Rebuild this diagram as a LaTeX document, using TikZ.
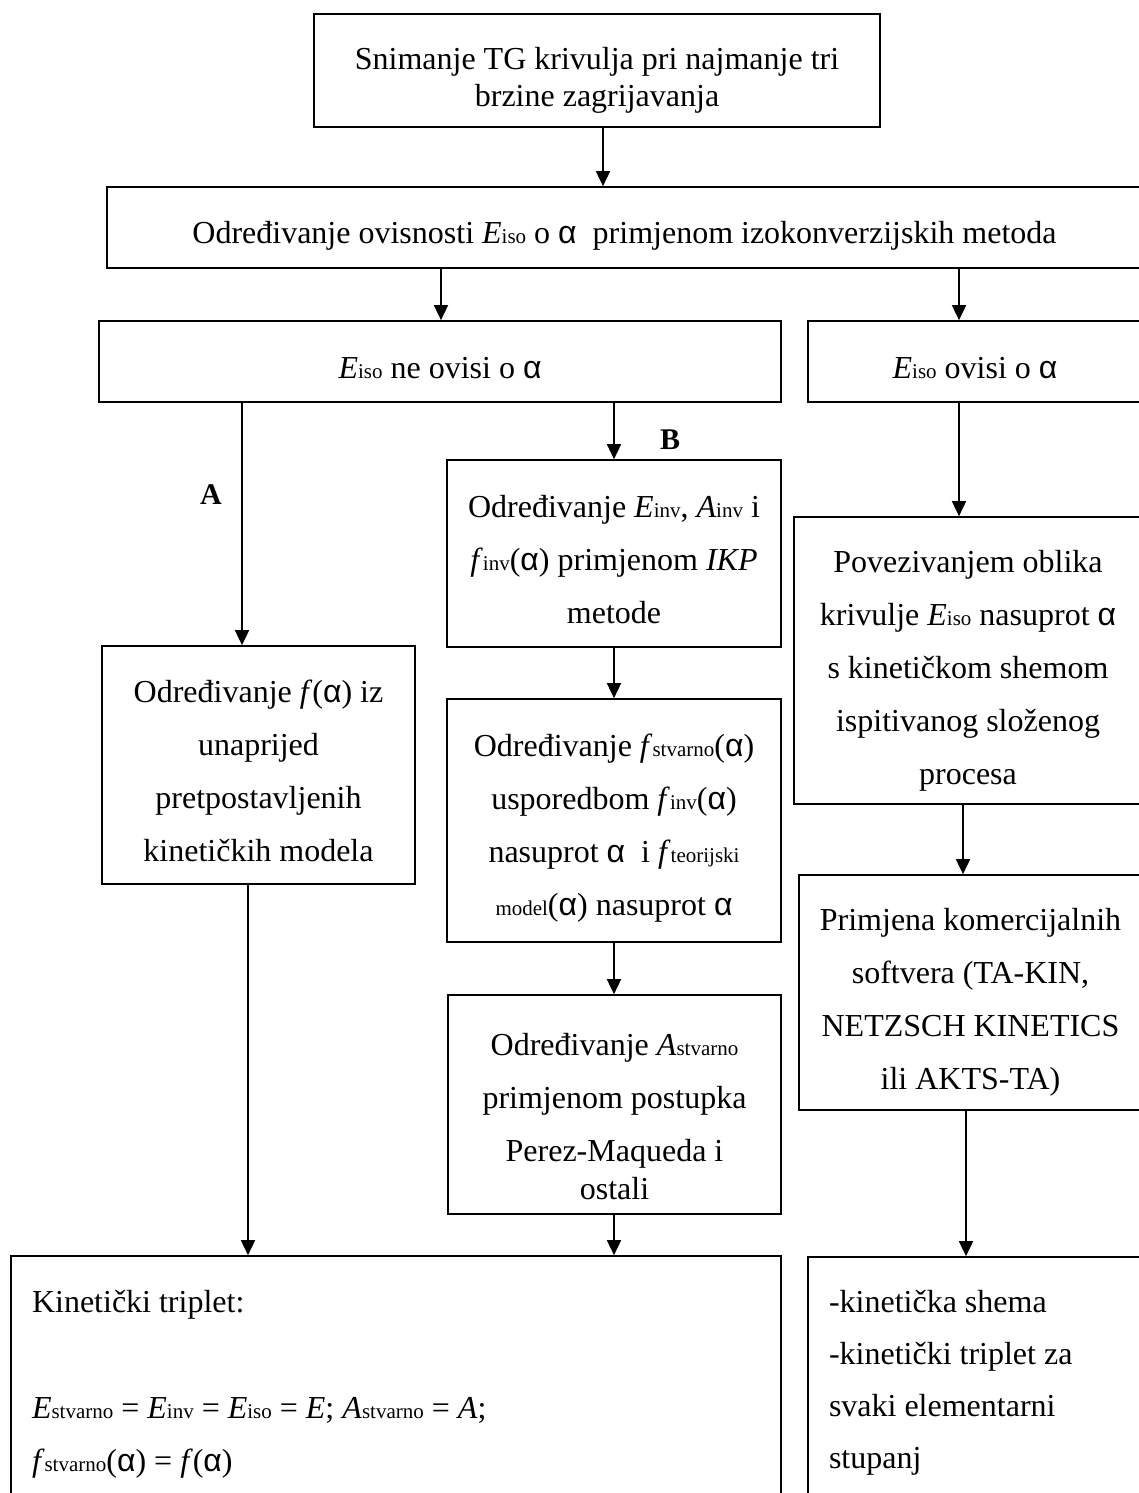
\documentclass[tikz,border=0pt]{standalone}
\usepackage{fontspec}
\setmainfont{Liberation Serif}
\newfontfamily\alfont{Liberation Sans}
\usetikzlibrary{arrows.meta}
\newcommand\al{{\alfont α}}
\newcommand\lo[1]{{\fontsize{21}{21}\selectfont #1}}
\newcommand\Ei[1]{\textit{E}\lo{#1}}
\newcommand\Ai[1]{\textit{A}\lo{#1}}
\newcommand\ff[1]{\textit{f}\lo{#1}}
\newcommand\ctab[1]{\begin{tabular}[t]{@{}c@{}}#1\end{tabular}}
\tikzset{
  box/.style={draw, line width=1.7pt, inner sep=0pt, font=\fontsize{32}{53}\selectfont},
  arr/.style={line width=1.7pt, -{Triangle[width=14pt,length=15pt]}},
  lbl/.style={font=\fontsize{30}{30}\selectfont\bfseries, inner sep=0pt, anchor=base}
}
\begin{document}
\begin{tikzpicture}[x=1pt,y=-1pt]
\useasboundingbox[fill=white] (0,0) rectangle (1139,1493);

% boxes
\node[box, minimum width=566pt, text height=56pt, text depth=57pt, font=\fontsize{32}{37}\selectfont] (top) at (597,70.5)
  {\ctab{Snimanje TG krivulja pri najmanje tri\\ brzine zagrijavanja}};
\node[box, minimum width=1035pt, text height=56pt, text depth=25pt] (iso) at (624.5,227.5)
  {\ctab{Određivanje ovisnosti \Ei{iso} o \al\ \ primjenom izokonverzijskih metoda}};
\node[box, minimum width=682pt, text height=57pt, text depth=24pt] (ne) at (440,361.5)
  {\ctab{\Ei{iso} ne ovisi o \al}};
\node[box, minimum width=334pt, text height=57pt, text depth=24pt] (da) at (975,361.5)
  {\ctab{\Ei{iso} ovisi o \al}};
\node[box, minimum width=313pt, text height=56pt, text depth=182pt] (fa) at (258.5,765)
  {\ctab{Određivanje \textit{f}(\al) iz\\ unaprijed\\ pretpostavljenih\\ kinetičkih modela}};
\node[box, minimum width=334pt, text height=57pt, text depth=130pt] (b1) at (614,553.5)
  {\ctab{Određivanje \Ei{inv}, \Ai{inv} i\\ \ff{inv}(\al) primjenom \textit{IKP}\\ metode}};
\node[box, minimum width=334pt, text height=57pt, text depth=186pt] (b2) at (614,820.5)
  {\ctab{Određivanje \ff{stvarno}(\al)\\ usporedbom \ff{inv}(\al)\\ nasuprot \al\ \ i \ff{teorijski}\\ \lo{model}(\al) nasuprot \al}};
\node[box, minimum width=333pt, text height=60pt, text depth=159pt] (b3) at (614.5,1104.5)
  {\ctab{Određivanje \Ai{stvarno}\\ primjenom postupka\\ Perez-Maqueda i\\ \raisebox{15pt}{ostali}}};
\node[box, minimum width=770pt, text height=56pt, text depth=188pt] (kt) at (396,1378)
  {\begin{tabular}[t]{@{\hspace{21pt}}p{749pt}@{}}Kinetički triplet:\\ \\
   \Ei{stvarno} = \Ei{inv} = \Ei{iso} = \textit{E}; \Ai{stvarno} = \textit{A};\\
   \ff{stvarno}(\al) = \textit{f}(\al)\end{tabular}};
\node[box, minimum width=348pt, text height=55pt, text depth=232pt] (r1) at (968,660.5)
  {\ctab{Povezivanjem oblika\\ krivulje \Ei{iso} nasuprot \al\\ s kinetičkom shemom\\ ispitivanog složenog\\ procesa}};
\node[box, minimum width=343pt, text height=55pt, text depth=180pt] (r2) at (970.5,992.5)
  {\ctab{Primjena komercijalnih\\ softvera (TA-KIN,\\ NETZSCH KINETICS\\ ili AKTS-TA)}};
\node[box, minimum width=334pt, text height=55pt, text depth=188pt, font=\fontsize{32}{52}\selectfont] (r3) at (975,1378.5)
  {\begin{tabular}[t]{@{\hspace{21pt}}p{313pt}@{}}-kinetička shema\\ -kinetički triplet za\\ svaki elementarni\\ stupanj\end{tabular}};

% labels
\node[lbl] (lblA) at (211,504) {A};
\node[lbl] (lblB) at (670,449) {B};

% connector x positions
\coordinate (x1) at (603,0);
\coordinate (x2) at (441,0);
\coordinate (x3) at (959,0);
\coordinate (x4) at (242,0);
\coordinate (x5) at (614,0);
\coordinate (x6) at (248,0);
\coordinate (x7) at (963,0);
\coordinate (x8) at (966,0);

\draw[arr] (top.south -| x1) -- (iso.north -| x1);
\draw[arr] (iso.south -| x2) -- (ne.north -| x2);
\draw[arr] (iso.south -| x3) -- (da.north -| x3);
\draw[arr] (ne.south -| x4) -- (fa.north -| x4);
\draw[arr] (ne.south -| x5) -- (b1.north -| x5);
\draw[arr] (b1.south -| x5) -- (b2.north -| x5);
\draw[arr] (b2.south -| x5) -- (b3.north -| x5);
\draw[arr] (b3.south -| x5) -- (kt.north -| x5);
\draw[arr] (fa.south -| x6) -- (kt.north -| x6);
\draw[arr] (da.south -| x3) -- (r1.north -| x3);
\draw[arr] (r1.south -| x7) -- (r2.north -| x7);
\draw[arr] (r2.south -| x8) -- (r3.north -| x8);
\end{tikzpicture}
\end{document}
